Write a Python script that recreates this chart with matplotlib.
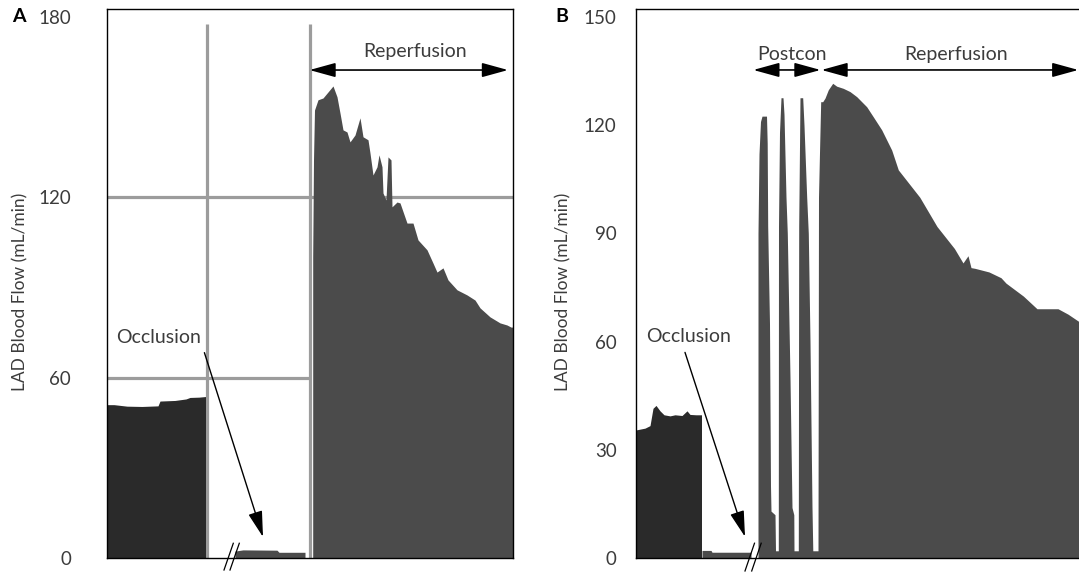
import matplotlib
matplotlib.use("Agg")
import matplotlib.pyplot as plt

plt.rcParams['font.family'] = ['Lato', 'DejaVu Sans']

# ---------------- data (time in arbitrary units, flow in mL/min) ----------------
# Panel A
a_base_t = [0, 7, 20, 35, 51, 53, 68, 79, 83, 92, 98.5]
a_base_v = [51.0, 51.0, 50.5, 50.4, 50.6, 52.2, 52.4, 52.9, 53.4, 53.5, 53.7]
a_occ_t = [128, 136, 170, 172, 198]
a_occ_v = [2.3, 2.7, 2.6, 1.9, 1.9]
a_rep_t = [205.7, 206.5, 207.5, 211, 216, 221, 226, 230, 233, 236, 240, 243, 248, 253,
           256, 261, 263, 266, 270, 272, 275, 276, 279, 281, 284, 285, 290, 293, 300,
           306, 311, 320, 326, 330, 336, 341, 350, 360, 368, 373, 383, 393, 400, 404, 405.7]
a_rep_v = [100.2, 132.4, 149.0, 152.4, 153.0, 155.0, 157.0, 153.4, 148.0, 142.4, 141.7,
           138.4, 140.7, 146.4, 140.1, 139.1, 134.7, 127.4, 130.1, 134.1, 130.1, 121.4,
           119.1, 133.4, 132.4, 116.8, 118.4, 118.1, 111.4, 111.4, 105.8, 102.5, 98.1,
           95.1, 96.5, 92.5, 89.2, 87.5, 85.8, 83.2, 80.2, 78.2, 77.5, 76.8, 76.8]
a_event_t = [100, 202.5]          # occlusion start / reperfusion start
a_grid_v = [60, 120]
a_yticks = [0, 60, 120, 180]

# Panel B
b_base_t = [0, 9, 14, 17, 20, 24, 28, 34, 39, 46, 51, 54, 60, 65.5]
b_base_v = [35.5, 36.0, 36.7, 41.5, 42.3, 40.8, 39.7, 39.4, 39.7, 39.5, 40.8, 39.8, 39.7, 39.7]
b_occ_t = [66, 75, 76, 115]
b_occ_v = [2.1, 2.1, 1.6, 1.6]
b_rep_t = [122.0, 123.0, 124.5, 126.0, 130.5, 131.2, 131.7, 133.5, 134.5, 135.0, 139.0, 139.5,
           142.3, 142.5, 143.5, 145.0, 147.0, 148.0, 150.0, 151.3, 154.0, 156.0, 157.8, 158.0,
           162.3, 162.7, 164.0, 166.7, 168.0, 170.7, 172.3, 174.0, 176.0, 176.8,
           182.0, 182.5, 183.3, 184.7, 186.7, 189.0, 192.3, 196.7, 200.7, 207.3, 214.0,
           220.7, 230.7, 237.3, 245.7, 255.7, 262.3, 283.8, 301.0, 318.4, 327.0, 332.0,
           335.0, 339.0, 353.0, 365.0, 370.0, 387.4, 401.0, 422.0, 432.0, 442.7, 454.0]
b_rep_v = [90, 112, 121, 122.5, 122.5, 115, 92, 65, 20, 13, 12, 2,
           2, 92, 118, 127.6, 127.6, 123, 100, 90, 50, 14, 12, 2,
           2, 92, 127.6, 127.6, 120, 100, 90, 60, 14, 2,
           2, 100, 110, 126.5, 126.5, 127.5, 129.8, 131.6, 130.8, 130.2, 129.3,
           127.9, 125.1, 122.3, 118.7, 113.1, 107.6, 100.0, 91.9, 85.8, 81.8, 83.8,
           80.5, 80.3, 79.3, 77.7, 76.2, 72.6, 69.1, 69.1, 67.6, 65.6, 64.0]
b_yticks = [0, 30, 60, 90, 120, 150]

ylabel = "LAD Blood Flow (mL/min)"

# ---------------- styling ----------------
DARK = "#2a2a2a"
MID = "#4b4b4b"
GRID = "#9c9c9c"
TXT = "#3c3c3c"
FS = 14

W, H = 1079, 574
fig = plt.figure(figsize=(W / 100, H / 100), dpi=100)
axA = fig.add_axes([107 / W, 16 / H, 405.7 / W, 549 / H])
axB = fig.add_axes([636 / W, 16 / H, 454 / W, 549 / H])

arrow_dd = dict(arrowstyle="<|-|>,head_length=0.8,head_width=0.22", color="black",
                lw=1.2, mutation_scale=20, shrinkA=0, shrinkB=0)
arrow_s = dict(arrowstyle="-|>,head_length=0.8,head_width=0.22", color="black",
               lw=1.0, mutation_scale=20, shrinkA=0, shrinkB=0)

# ---------------- Panel A ----------------
ax = axA
ax.set_xlim(0, 405.7)
ax.set_ylim(0, 182.6)
for v in a_grid_v:
    xmax = a_event_t[1] if v == 60 else 405.7
    ax.hlines(v, 0, xmax, color=GRID, lw=2.3, zorder=1)
for t in a_event_t:
    ax.vlines(t, 0, 177.7, color=GRID, lw=2.3, zorder=1)
ax.fill_between(a_base_t, 0, a_base_v, color=DARK, lw=0, zorder=2)
ax.fill_between(a_occ_t, 0, a_occ_v, color=MID, lw=0, zorder=2)
ax.fill_between(a_rep_t, 0, a_rep_v, color=MID, lw=0, zorder=2)

ax.annotate("", xy=(401, 162.3), xytext=(202.5, 162.3), arrowprops=arrow_dd, zorder=5)
ax.text(308, 168.3, "Reperfusion", ha="center", va="center", fontsize=FS, color=TXT)
ax.text(51.5, 73.5, "Occlusion", ha="center", va="center", fontsize=FS, color=TXT)
ax.annotate("", xy=(156, 7.0), xytext=(97.4, 68.3), arrowprops=arrow_s, zorder=5)
for x0 in (117, 123):
    ax.plot([x0, x0 + 9.3], [-4.0, 4.9], color="black", lw=0.9, clip_on=False, zorder=6)

ax.set_yticks(a_yticks)
ax.set_xticks([])
ax.tick_params(axis="y", length=0, pad=26, labelsize=13.5, labelcolor=TXT)
for s in ax.spines.values():
    s.set_linewidth(1.0)
    s.set_color("black")
fig.text(12 / W, 1 - 17 / H, "A", fontsize=FS, fontweight="bold", color="black",
         ha="left", va="center")
fig.text(20 / W, 1 - 292 / H, ylabel, rotation=90, fontsize=12.5, color=TXT,
         ha="center", va="center")

# ---------------- Panel B ----------------
ax = axB
ax.set_xlim(0, 454)
ax.set_ylim(0, 152.2)
ax.fill_between(b_base_t, 0, b_base_v, color=DARK, lw=0, zorder=2)
ax.fill_between(b_occ_t, 0, b_occ_v, color=MID, lw=0, zorder=2)
ax.fill_between(b_rep_t, 0, b_rep_v, color=MID, lw=0, zorder=2)

ax.annotate("", xy=(184.5, 135.3), xytext=(117.3, 135.3), arrowprops=arrow_dd, zorder=5)
ax.annotate("", xy=(442.3, 135.3), xytext=(185.5, 135.3), arrowprops=arrow_dd, zorder=5)
ax.text(156, 139.7, "Postcon", ha="center", va="center", fontsize=FS, color=TXT)
ax.text(320, 139.7, "Reperfusion", ha="center", va="center", fontsize=FS, color=TXT)
ax.text(53, 61.3, "Occlusion", ha="center", va="center", fontsize=FS, color=TXT)
ax.annotate("", xy=(109, 5.9), xytext=(49, 57), arrowprops=arrow_s, zorder=5)
for x0 in (109, 115.7):
    ax.plot([x0, x0 + 9.5], [-3.6, 4.1], color="black", lw=0.9, clip_on=False, zorder=6)

ax.set_yticks(b_yticks)
ax.set_xticks([])
ax.tick_params(axis="y", length=0, pad=14, labelsize=13.5, labelcolor=TXT)
for s in ax.spines.values():
    s.set_linewidth(1.0)
    s.set_color("black")
fig.text(555 / W, 1 - 17 / H, "B", fontsize=FS, fontweight="bold", color="black",
         ha="left", va="center")
fig.text(563 / W, 1 - 292 / H, ylabel, rotation=90, fontsize=12.5, color=TXT,
         ha="center", va="center")

fig.savefig("out.png", dpi=100)
